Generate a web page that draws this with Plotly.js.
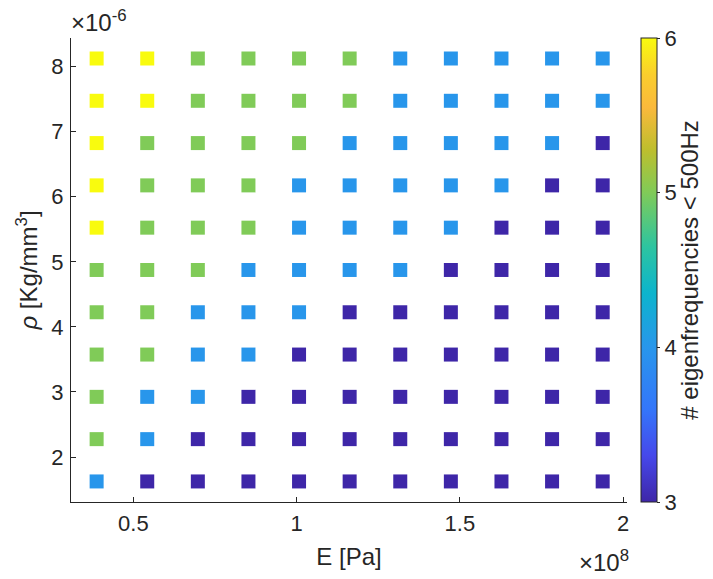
<!DOCTYPE html>
<html>
<head>
<meta charset="utf-8">
<script src="https://cdn.plot.ly/plotly-3.0.1.min.js"></script>
<style>html,body{margin:0;padding:0;background:#fff;}#chart{width:713px;height:579px;}</style>
</head>
<body>
<div id="chart"></div>
<script>
// Young's modulus values [Pa] (columns, left to right)
const E_values = [0.3875e8, 0.5425e8, 0.6975e8, 0.8525e8, 1.0075e8, 1.1625e8, 1.3175e8, 1.4725e8, 1.6275e8, 1.7825e8, 1.9375e8];
// Density values [Kg/mm^3] (rows, top to bottom)
const rho_values = [8.125e-6, 7.475e-6, 6.825e-6, 6.175e-6, 5.525e-6, 4.875e-6, 4.225e-6, 3.575e-6, 2.925e-6, 2.275e-6, 1.625e-6];
// Number of eigenfrequencies < 500 Hz, one row per rho value (top to bottom)
const row_8125 = [6, 6, 5, 5, 5, 5, 4, 4, 4, 4, 4];
const row_7475 = [6, 6, 5, 5, 5, 5, 4, 4, 4, 4, 4];
const row_6825 = [6, 5, 5, 5, 5, 4, 4, 4, 4, 4, 3];
const row_6175 = [6, 5, 5, 5, 4, 4, 4, 4, 4, 3, 3];
const row_5525 = [6, 5, 5, 5, 4, 4, 4, 4, 3, 3, 3];
const row_4875 = [5, 5, 5, 4, 4, 4, 4, 3, 3, 3, 3];
const row_4225 = [5, 5, 4, 4, 4, 3, 3, 3, 3, 3, 3];
const row_3575 = [5, 5, 4, 4, 3, 3, 3, 3, 3, 3, 3];
const row_2925 = [5, 4, 4, 3, 3, 3, 3, 3, 3, 3, 3];
const row_2275 = [5, 4, 3, 3, 3, 3, 3, 3, 3, 3, 3];
const row_1625 = [4, 3, 3, 3, 3, 3, 3, 3, 3, 3, 3];
const count_rows = [row_8125, row_7475, row_6825, row_6175, row_5525, row_4875, row_4225, row_3575, row_2925, row_2275, row_1625];
// Tick labels
const x_tickvals = [0.5e8, 1e8, 1.5e8, 2e8];
const x_ticktext = ['0.5', '1', '1.5', '2'];
const y_tickvals = [2e-6, 3e-6, 4e-6, 5e-6, 6e-6, 7e-6, 8e-6];
const y_ticktext = ['2', '3', '4', '5', '6', '7', '8'];
const c_tickvals = [3, 4, 5, 6];

const parula = [
  [0.0, 'rgb(62,38,168)'],
  [0.1, 'rgb(70,72,235)'],
  [0.2, 'rgb(52,118,250)'],
  [0.3333, 'rgb(40,150,235)'],
  [0.45, 'rgb(12,180,205)'],
  [0.55, 'rgb(45,196,160)'],
  [0.6667, 'rgb(128,203,88)'],
  [0.76, 'rgb(190,190,45)'],
  [0.85, 'rgb(250,185,60)'],
  [0.92, 'rgb(250,205,45)'],
  [1.0, 'rgb(249,251,14)']
];

const xs = [], ys = [], cs = [];
for (let r = 0; r < rho_values.length; r++) {
  for (let c = 0; c < E_values.length; c++) {
    xs.push(E_values[c]);
    ys.push(rho_values[r]);
    cs.push(count_rows[r][c]);
  }
}

const FONT = '"Liberation Sans", Arial, Helvetica, sans-serif';
const TXT = '#262626';
const TICK = 22, TITLE = 24;

const trace = {
  type: 'scatter',
  mode: 'markers',
  x: xs, y: ys,
  marker: {
    symbol: 'square',
    size: 14,
    color: cs,
    cmin: 3, cmax: 6,
    colorscale: parula,
    line: {width: 0},
    showscale: true,
    colorbar: {
      x: 1.026, xanchor: 'left', xpad: 0,
      y: 0.5, yanchor: 'middle', ypad: 0,
      len: 1, lenmode: 'fraction',
      thickness: 16, thicknessmode: 'pixels',
      outlinewidth: 1, outlinecolor: TXT,
      tickvals: c_tickvals,
      ticks: 'outside', ticklen: 3, tickcolor: TXT,
      tickfont: {family: FONT, size: TICK, color: TXT}
    }
  },
  hoverinfo: 'x+y+text'
};

const layout = {
  width: 713, height: 579,
  margin: {l: 71, r: 86, t: 37.5, b: 77, pad: 0},
  paper_bgcolor: '#fff', plot_bgcolor: '#fff',
  showlegend: false,
  font: {family: FONT, color: TXT},
  xaxis: {
    range: [0.309e8, 2.012e8],
    tickvals: x_tickvals, ticktext: x_ticktext,
    ticks: 'inside', ticklen: 5, tickcolor: TXT, tickwidth: 1,
    ticklabelstandoff: 2,
    showline: true, linecolor: TXT, linewidth: 1,
    showgrid: false, zeroline: false, mirror: false,
    tickfont: {family: FONT, size: TICK, color: TXT},
    title: {text: 'E [Pa]', font: {family: FONT, size: TITLE, color: TXT}, standoff: 12}
  },
  yaxis: {
    range: [1.309e-6, 8.44e-6],
    tickvals: y_tickvals, ticktext: y_ticktext,
    ticks: 'inside', ticklen: 5, tickcolor: TXT, tickwidth: 1,
    ticklabelstandoff: 2,
    showline: true, linecolor: TXT, linewidth: 1,
    showgrid: false, zeroline: false, mirror: false,
    tickfont: {family: FONT, size: TICK, color: TXT},
    title: {text: '<i>ρ</i> [Kg/mm<sup>3</sup>]', font: {family: FONT, size: TITLE, color: TXT}, standoff: 6}
  },
  annotations: [
    {xref: 'paper', yref: 'paper', x: 0, y: 1, xanchor: 'left', yanchor: 'bottom', yshift: 0, xshift: -2,
     text: '×10<sup>-6</sup>', showarrow: false, font: {family: FONT, size: 24, color: TXT}},
    {xref: 'paper', yref: 'paper', x: 1, y: 0, xanchor: 'right', yanchor: 'top', yshift: -42, xshift: 4,
     text: '×10<sup>8</sup>', showarrow: false, font: {family: FONT, size: 24, color: TXT}},
    {xref: 'paper', yref: 'paper', x: 1.111, y: 0.5, xanchor: 'center', yanchor: 'middle', textangle: -90,
     text: '# eigenfrequencies < 500Hz', showarrow: false, font: {family: FONT, size: 24, color: TXT}}
  ]
};

Plotly.newPlot('chart', [trace], layout, {displayModeBar: false, staticPlot: true});
</script>
</body>
</html>
